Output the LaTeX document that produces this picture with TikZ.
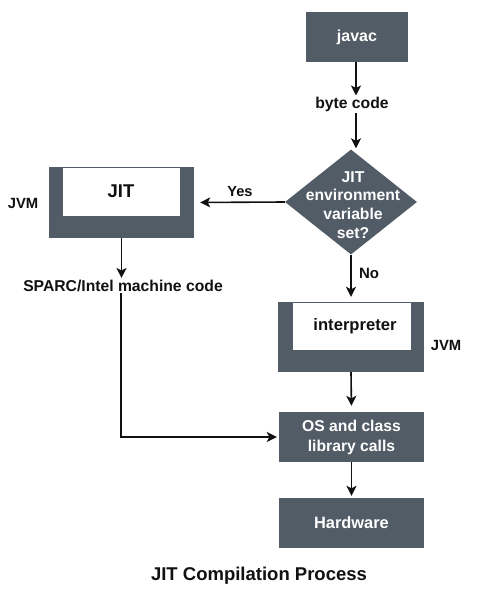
\documentclass[tikz,border=0pt]{standalone}
\usepackage{fontspec}
\setmainfont{Liberation Sans}
\usetikzlibrary{arrows.meta,shapes.geometric}
\definecolor{boxc}{RGB}{81,92,102}
\definecolor{ink}{RGB}{17,17,17}
\tikzset{
  box/.style={draw=none,fill=boxc,inner sep=0pt,text=white,font=\fontsize{15.7}{20}\selectfont\bfseries,align=center},
  inner/.style={draw=none,fill=white,inner sep=0pt},
  lbl/.style={inner sep=1pt,text=ink,font=\fontsize{15.7}{19}\selectfont\bfseries,align=center},
  arr/.style={draw=ink,line width=1.6pt,-{Stealth[length=10pt,width=10pt,inset=2.5pt]}},
  ln/.style={draw=ink,line width=1.6pt}
}
\begin{document}
\begin{tikzpicture}[x=1pt,y=-1pt]
\useasboundingbox[fill=white] (0,0) rectangle (489,600);
% right column
\node[box,minimum width=102pt,minimum height=50pt,font=\fontsize{16}{20}\selectfont\bfseries] (javac) at (357,37) {javac};
\node[lbl] (bc) at (352,104) {byte code};
\node[diamond,fill=boxc,draw=none,inner sep=0pt,minimum width=132pt,minimum height=105pt] (dec) at (351,202) {};
\node[lbl,text=white,font=\fontsize{15.7}{18.7}\selectfont\bfseries] (dect) at (353,205) {JIT\\environment\\variable\\set?};
\node[box,minimum width=146pt,minimum height=70pt] (interp) at (351,337) {};
\node[inner,minimum width=118pt,minimum height=47pt] (interpin) at (352,326.5) {};
\node[lbl,font=\fontsize{16.6}{20}\selectfont\bfseries] (interpt) at (355,326) {interpreter};
\node[lbl,font=\fontsize{14.8}{18}\selectfont\bfseries] (jvmr) at (446,345) {JVM};
\node[box,minimum width=145pt,minimum height=50pt] (os) at (351.5,437) {OS and class\\library calls};
\node[box,minimum width=145pt,minimum height=50pt,font=\fontsize{16.4}{20}\selectfont\bfseries] (hw) at (351.5,523) {Hardware};
% left column
\node[box,minimum width=145pt,minimum height=71pt] (jit) at (121.5,202.5) {};
\node[inner,minimum width=117pt,minimum height=48pt] (jitin) at (121.5,192) {};
\node[lbl,font=\fontsize{18.5}{22}\selectfont\bfseries] (jitt) at (121,191) {JIT};
\node[lbl,font=\fontsize{14.8}{18}\selectfont\bfseries] (jvml) at (23,203) {JVM};
\node[lbl] (sparc) at (123,286) {SPARC/Intel machine code};
\node[lbl,font=\fontsize{14.6}{18}\selectfont\bfseries] (yes) at (240,192) {Yes};
\node[lbl,font=\fontsize{15}{18}\selectfont\bfseries] (no) at (369,273) {No};
\node[lbl,font=\fontsize{18.5}{22}\selectfont\bfseries] (title) at (259,576) {JIT Compilation Process};
\coordinate (corner) at (121,437);
\coordinate (bcx) at (356,0);
% connectors
\draw[arr] (javac.south -| bcx) -- (bc.north -| bcx);
\draw[arr,shorten >=1pt] (bc.south -| bcx) -- (bcx |- dec.north);
\draw[arr,shorten >=6pt] (dec.west) -- (jit.east);
\draw[arr,shorten >=5pt] (dec.south) -- (interp.north);
\draw[arr,shorten >=6pt] (interp.south) -- (os.north);
\draw[arr,shorten >=2pt] (os.south) -- (hw.north);
\draw[arr,shorten >=1pt] (jit.south) -- (jit.south |- sparc.north);
\draw[arr,shorten >=2pt] (sparc.south -| corner) -- (corner) -- (os.west);
\end{tikzpicture}
\end{document}
